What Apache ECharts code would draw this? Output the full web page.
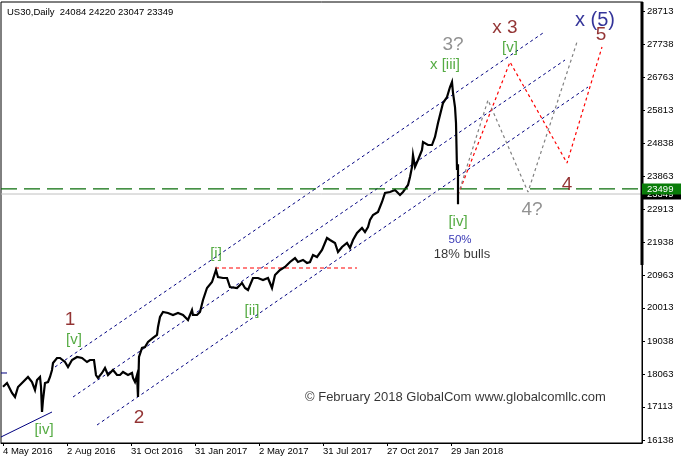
<!DOCTYPE html>
<html><head><meta charset="utf-8">
<script src="https://cdn.jsdelivr.net/npm/echarts@6/dist/echarts.min.js"></script>
<style>html,body{margin:0;padding:0;background:#fff}#c{width:681px;height:464px}</style>
</head><body><div id="c"></div>
<script>
// ---- data (bar index counted from 4 May 2016 = 0, one trading day per step) ----
const barIndex = [0,4,9,12,15,20,25,29,32,34,37,38,39,40,42,45,47,49,50,54,57,62,65,69,74,79,84,87,91,93,95,99,102,105,110,114,117,120,125,129,130,132,134,135,136,139,142,145,150,154,155,157,160,165,170,175,180,185,189,190,194,197,200,204,209,213,215,217,220,224,227,234,239,242,245,250,255,260,265,269,272,277,282,287,292,295,300,304,307,310,314,319,324,327,332,335,339,344,347,350,354,359,362,365,367,370,375,379,382,387,392,397,400,405,407,409,410,412,415,419,420,425,429,432,435,439,440,444,447,449,450,452,453,454];
const closePrice = [17701,17810,17517,17399,17692,17839,17986,17839,17605,17898,17986,17700,16960,17311,17810,17839,17986,18191,18396,18542,18542,18425,18279,18484,18572,18542,18425,18484,18484,18044,17956,18103,18249,18044,18191,18044,18044,18132,18044,18103,17956,17839,18044,17399,18572,18836,18865,19011,19129,19217,19451,19744,19891,19861,19803,19861,19803,19656,19949,19803,19803,19891,20242,20594,20770,21122,20917,20975,20887,20887,20623,20594,20741,20594,20536,20887,20887,20829,20887,20594,20975,21122,21210,21356,21473,21356,21415,21327,21356,21561,21503,21708,22060,22001,21913,21649,21796,21913,21767,22001,22206,22353,22235,22382,22587,22734,22822,23115,23379,23408,23467,23320,23408,23613,23848,24141,24492,24141,24346,24639,24873,24785,24785,25020,25430,25899,26016,26192,26485,26632,26310,25899,25430,24053];
const lastBarIndex = 455;
const lastBarOHLC = [24084, 24220, 23047, 23349];
const askPrice = 23499;

const xTickIndex = [0,64,128,192,256,320,384,448];
const xTickLabels = ['4 May 2016','2 Aug 2016','31 Oct 2016','31 Jan 2017','2 May 2017','31 Jul 2017','27 Oct 2017','29 Jan 2018'];
const yTicks = [16138,17113,18063,19038,20013,20963,21938,22913,23863,24838,25813,26763,27738,28713];

// trend / channel lines [barIndex, price]
const channelUpper = [[52,18279],[540,28068]];
const channelMiddle = [[70,17399],[562,27277]];
const channelLower = [[94,16578],[585,26485]];
const baseLine = [[-2,16227],[49,16960]];
const leftStub = [[-2,18103],[4,18103]];
const waveOneLevel = [[212,21180],[354,21180]];
const redPath = [[455,23320],[507,27218],[564,24258],[599,27658]];
const grayPath = [[455,23320],[485,26104],[525,23408],[574,27804]];

// annotations
const annoText  = ['1','[v]','[iv]','2','[i]','[ii]','x [iii]','3?','x 3','[v]','x (5)','5','4','4?','[iv]','50%','18% bulls','© February 2018 GlobalCom www.globalcomllc.com'];
const annoIndex = [67,71,41,136,213,249,442,450,502,507,592,598,564,529,455,457,459,302];
const annoPrice = [19656,19070,16432,16784,21591,19920,27130,27716,28215,27629,28449,28010,23613,22880,22529,22001,21591,17399];
const annoKind  = ['major','minor','minor','major','minor','minor','minor','alt','major','minor','top','major','major','alt','minor','pct','note','copy'];

const kindStyle = {
  major: {color:'#780000', fontSize:19},
  minor: {color:'#2a9614', fontSize:15},
  alt:   {color:'#777777', fontSize:19},
  top:   {color:'#000080', fontSize:20},
  pct:   {color:'#0000a0', fontSize:11.5},
  note:  {color:'#000000', fontSize:13},
  copy:  {color:'#000000', fontSize:13, align:'left'}
};

const FONT = 'Liberation Sans';
const chart = echarts.init(document.getElementById('c'), null, {renderer:'canvas'});

const priceData = barIndex.map((x,i)=>[x, closePrice[i]]);
priceData.push([lastBarIndex, lastBarOHLC[1]], [lastBarIndex, lastBarOHLC[2]], [lastBarIndex, lastBarOHLC[3]]);

function lineSeries(data, color, type, width, z){
  return {type:'line', data, symbol:'none', silent:true, z: z||2,
    lineStyle:{color, type, width: width||1}, animation:false};
}

const annoData = annoText.map((t,i)=>{
  const st = kindStyle[annoKind[i]];
  return {value:[annoIndex[i], annoPrice[i]],
    label:{show:true, formatter:t, position:'inside', color:st.color, fontSize:st.fontSize,
      fontFamily:FONT, align: st.align||'center', verticalAlign:'middle'}};
});

chart.setOption({
  animation:false,
  backgroundColor:'#ffffff',
  textStyle:{fontFamily:FONT},
  grid:{left:1, right:39, top:2, bottom:21, show:true, borderColor:'#000', borderWidth:1, backgroundColor:'#fff'},
  xAxis:{type:'value', min:-2, max:639, splitLine:{show:false},
    axisLine:{show:true, onZero:false, lineStyle:{color:'#000', width:1}},
    axisTick:{show:true, customValues:xTickIndex, length:3, lineStyle:{color:'#000'}},
    axisLabel:{customValues:xTickIndex, formatter:v=>{const k=xTickIndex.indexOf(v);return k>=0?xTickLabels[k]:'';},
      align:'left', margin:3, color:'#000', fontSize:9.5, fontFamily:FONT}},
  yAxis:{type:'value', position:'right', min:16051, max:28977, splitLine:{show:false},
    axisLine:{show:true, onZero:false, lineStyle:{color:'#000', width:1}},
    axisTick:{show:true, customValues:yTicks, length:3, lineStyle:{color:'#000'}},
    axisLabel:{customValues:yTicks, formatter:v=>String(v), margin:5, color:'#000', fontSize:9.5, fontFamily:FONT}},
  series:[
    lineSeries(channelUpper,'#000080',[3,3],1),
    lineSeries(channelMiddle,'#000080',[3,3],1),
    lineSeries(channelLower,'#000080',[3,3],1),
    lineSeries(baseLine,'#000080','solid',1),
    lineSeries(leftStub,'#000080','solid',1),
    lineSeries(waveOneLevel,'#ff0000',[4,3],1.2),
    lineSeries(redPath,'#ff0000',[3,3],1.2),
    lineSeries(grayPath,'#808080',[3,3],1.2),
    lineSeries([[-2,lastBarOHLC[3]],[639,lastBarOHLC[3]]],'#c0c0c0','solid',1,3),
    {type:'line', data:priceData, symbol:'none', silent:true, z:4, animation:false,
      lineStyle:{color:'#000', width:2.2, join:'miter'}},
    lineSeries([[-2,askPrice],[639,askPrice]],'#0a6e0a',[16,7],1.2,5),
    {type:'scatter', data:annoData, symbol:'circle', symbolSize:1, z:6, silent:true,
      itemStyle:{color:'rgba(0,0,0,0)'}}
  ]
});

const yAsk = chart.convertToPixel({yAxisIndex:0}, askPrice);
const yBid = chart.convertToPixel({yAxisIndex:0}, lastBarOHLC[3]);
const xRight = chart.convertToPixel({xAxisIndex:0}, 639);
chart.setOption({graphic:[
  {type:'rect', shape:{x:xRight-1.5, y:2, width:3, height:263}, style:{fill:'#000'}, z:10},
  {type:'rect', shape:{x:xRight, y:yBid-5.5, width:681-xRight, height:11}, style:{fill:'#000'}, z:10},
  {type:'text', x:xRight+5, y:yBid, style:{text:String(lastBarOHLC[3]), fill:'#fff', font:'9.5px '+FONT, verticalAlign:'middle'}, z:11},
  {type:'rect', shape:{x:xRight, y:yAsk-5.5, width:681-xRight, height:11}, style:{fill:'#0a7d0a'}, z:12},
  {type:'text', x:xRight+5, y:yAsk, style:{text:String(askPrice), fill:'#fff', font:'9.5px '+FONT, verticalAlign:'middle'}, z:13},
  {type:'text', x:7, y:12, style:{text:'US30,Daily  24084 24220 23047 23349', fill:'#000', font:'9.5px '+FONT, verticalAlign:'middle'}, z:13}
]});
</script></body></html>
